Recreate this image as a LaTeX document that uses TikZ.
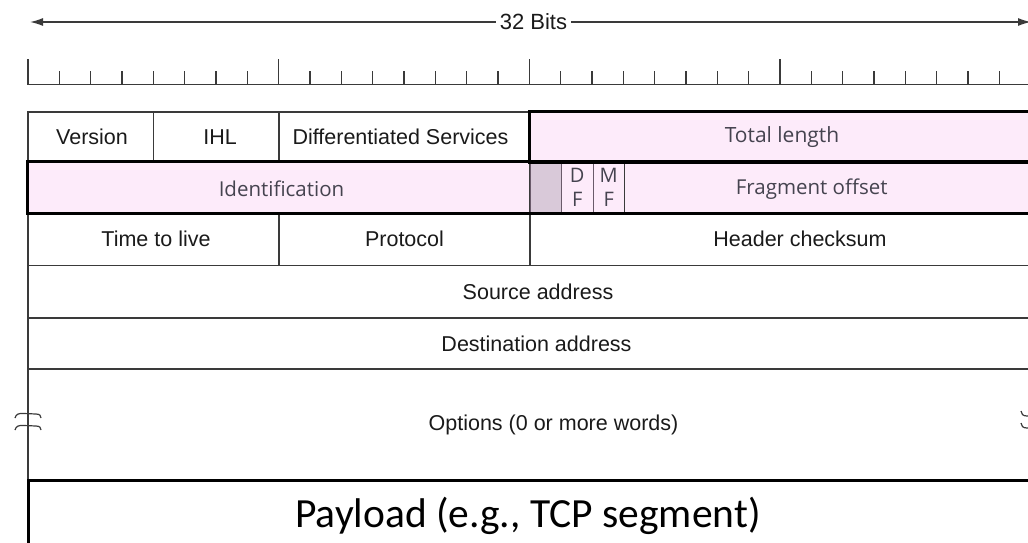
\documentclass[tikz,border=0pt]{standalone}
\usepackage{fontspec}
\usetikzlibrary{arrows.meta}
\newfontfamily\arialf{Liberation Sans}
\newfontfamily\myrf{Open Sans}
\newfontfamily\calf{Carlito}
\definecolor{pinkc}{HTML}{FDEBFA}
\definecolor{resc}{HTML}{D9C9D9}
\definecolor{linec}{HTML}{3A3A3A}
\definecolor{txtc}{HTML}{1A1A1A}
\definecolor{mtxtc}{HTML}{45434F}
\definecolor{divc}{HTML}{6A5A6A}
\tikzset{
  cellbox/.style={draw=linec, line width=1.4pt, rectangle, inner sep=0pt, anchor=center},
  pinkbox/.style={cellbox, fill=pinkc},
  flagbox/.style={draw=divc, line width=1pt, rectangle, inner sep=0pt, fill=pinkc, text=mtxtc,
    align=center, font=\myrf\fontsize{20}{23.5}\selectfont},
  celltext/.style={inner sep=0pt, text=txtc, font=\arialf\fontsize{21.5}{26}\selectfont},
  pinktext/.style={inner sep=0pt, text=mtxtc, font=\myrf\fontsize{20.5}{24}\selectfont},
  thickline/.style={draw=black, line width=3pt},
  ruler/.style={draw=linec, line width=1.4pt},
  breakmark/.style={draw=linec, line width=1.2pt},
  arrowline/.style={line width=1.4pt, draw=linec, -{Latex[length=13pt,width=8pt]}},
}
\begin{document}
\begin{tikzpicture}[x=1pt,y=-1pt]
\useasboundingbox (0,0) rectangle (1028,542);
\clip (0,0) rectangle (1028,542);
% arrow with label
\node[font=\arialf\fontsize{22}{26}\selectfont, text=txtc, fill=white, inner xsep=4pt, inner ysep=2pt] (bits) at (533.5,22) {32 Bits};
\coordinate (arrL) at (30,22);
\coordinate (arrR) at (1031,22);
\draw[arrowline] (bits.west) -- (arrL);
\draw[arrowline] (bits.east) -- (arrR);
% ruler
\draw[ruler] (28,84.5) -- (1040,84.5);
\foreach \i in {0,...,32}{
  \pgfmathsetmacro{\xx}{28+31.33*\i}
  \pgfmathtruncatemacro{\m}{mod(\i,8)}
  \ifnum\m=0
    \draw[ruler] (\xx,84.5) -- (\xx,59);
  \else
    \draw[ruler] (\xx,84.5) -- (\xx,70.7);
  \fi
}
% row 1
\node[cellbox, minimum width=125.5pt, minimum height=50pt] (version) at (90.75,137) {};
\node[cellbox, minimum width=125.5pt, minimum height=50pt] (ihl) at (216.25,137) {};
\node[cellbox, minimum width=251pt, minimum height=50pt] (ds) at (404.5,137) {};
\node[pinkbox, minimum width=502pt, minimum height=50pt] (tl) at (781,137) {};
\node[celltext] (version-t) at (92,137) {Version};
\node[celltext] (ihl-t) at (220,137) {IHL};
\node[celltext] (ds-t) at (400.5,137) {Differentiated Services};
\node[pinktext, font=\myrf\fontsize{21}{24}\selectfont] (tl-t) at (782,137.5) {Total length};
% row 2
\node[pinkbox, minimum width=502pt, minimum height=51pt] (ident) at (279,187.5) {};
\node[flagbox, fill=resc, minimum width=31.5pt, minimum height=51pt] (res) at (545.75,187.5) {};
\node[flagbox, minimum width=31.5pt, minimum height=51pt] (df) at (577.25,187.5) {D\\F};
\node[flagbox, minimum width=31.5pt, minimum height=51pt] (mf) at (608.75,187.5) {M\\F};
\node[pinkbox, minimum width=407.5pt, minimum height=51pt] (fo) at (828.25,187.5) {};
\node[pinktext] (ident-t) at (281.5,188.5) {Identification};
\node[pinktext] (fo-t) at (811.7,189) {Fragment offset};
% row 3
\node[cellbox, minimum width=251pt, minimum height=52.5pt] (ttl) at (153.5,239.25) {};
\node[cellbox, minimum width=251pt, minimum height=52.5pt] (proto) at (404.5,239.25) {};
\node[cellbox, minimum width=502pt, minimum height=52.5pt] (hc) at (781,239.25) {};
\node[celltext] (ttl-t) at (156,239.25) {Time to live};
\node[celltext] (proto-t) at (404.5,239.25) {Protocol};
\node[celltext] (hc-t) at (800,239.25) {Header checksum};
% rows 4-5
\node[cellbox, minimum width=1004pt, minimum height=52.5pt] (src) at (530,291.75) {};
\node[cellbox, minimum width=1004pt, minimum height=51pt] (dst) at (530,343.5) {};
\node[celltext] (src-t) at (538,291.75) {Source address};
\node[celltext] (dst-t) at (536.5,343.5) {Destination address};
% options
\node[cellbox, minimum width=1004pt, minimum height=111pt] (opt) at (530,424.5) {};
\node[celltext] (opt-t) at (553.5,424.5) {Options (0 or more words)};
% payload
\node[cellbox, draw=black, line width=3pt, minimum width=1004pt, minimum height=72pt] (payload) at (530,516) {};
\node[inner sep=0pt, font=\calf\fontsize{41.5}{48}\selectfont, text=black] (payload-t) at (528,516) {Payload (e.g., TCP segment)};
% thick outlines
\draw[thickline] (tl.north west) rectangle (tl.south east);
\draw[thickline] (ident.north west) rectangle (fo.south east);
% break marks
\draw[breakmark] (15,418) .. controls (16,414) and (19,413) .. (24,413.5) -- (36,414) .. controls (40,414) and (41,416) .. (41,418);
\draw[breakmark] (15,430) .. controls (16,426) and (19,425) .. (24,425.5) -- (36,426) .. controls (40,426) and (41,428) .. (41,430);
\draw[breakmark] (1021,411) .. controls (1021,414) and (1023,416) .. (1027,416) -- (1040,416) .. controls (1044,416) and (1046,414) .. (1046,411);
\draw[breakmark] (1021,423) .. controls (1021,426) and (1023,428) .. (1027,428) -- (1040,428) .. controls (1044,428) and (1046,426) .. (1046,423);
\end{tikzpicture}
\end{document}
